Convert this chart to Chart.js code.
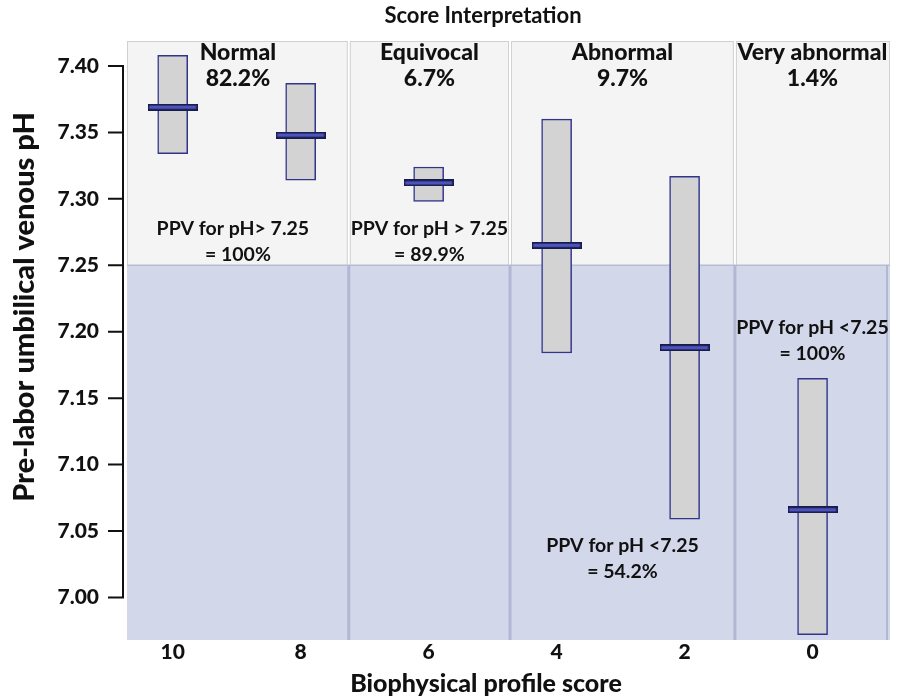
<!DOCTYPE html>
<html><head><meta charset="utf-8">
<script src="https://cdn.jsdelivr.net/npm/chart.js@4.4.1/dist/chart.umd.min.js"></script>
<style>html,body{margin:0;padding:0;background:#fff}</style>
</head><body>
<canvas id="c" width="903" height="697"></canvas>
<script>
// ---- data ----
const scoreLabels = ['10', '8', '6', '4', '2', '0'];
const rangeLow  = [7.334, 7.314, 7.298, 7.184, 7.059, 6.972];
const rangeHigh = [7.408, 7.387, 7.324, 7.360, 7.317, 7.165];
const meanPH    = [7.369, 7.348, 7.312, 7.265, 7.188, 7.066];
const yTickValues = [7.00, 7.05, 7.10, 7.15, 7.20, 7.25, 7.30, 7.35, 7.40];
const cutoffPH = 7.25;
const sectionNames  = ['Normal', 'Equivocal', 'Abnormal', 'Very abnormal'];
const sectionShares = ['82.2%', '6.7%', '9.7%', '1.4%'];
const ppvLine1 = ['PPV for pH> 7.25', 'PPV for pH > 7.25', 'PPV for pH <7.25', 'PPV for pH <7.25'];
const ppvLine2 = ['= 100%', '= 89.9%', '= 54.2%', '= 100%'];
const ppvAnchorPH = [7.2774, 7.2774, 7.0388, 7.2029];
const sectionBounds = [-0.357, 1.376, 2.636, 4.393, 5.605];
const chartTitle = 'Score Interpretation';
const xTitle = 'Biophysical profile score';
const yTitle = 'Pre-labor umbilical venous pH';

// ---- styles ----
const FONT = 'Lato, "DejaVu Sans", sans-serif';
const boxFill = '#d3d3d3', boxBorder = '#30358a';
const topFill = '#f4f4f4', topBorder = '#d0d0d0';
const lowFill = '#d3d7ea', lowSep = '#b2b7d3';

// mean marker image
const marker = document.createElement('canvas');
marker.width = 50; marker.height = 7;
(function(){
  const m = marker.getContext('2d');
  m.fillStyle = '#191b48'; m.fillRect(0, 0, 50, 7);
  m.fillStyle = '#4b53bd'; m.fillRect(1.5, 1.8, 47, 3.4);
})();

const idx = scoreLabels.map((_, i) => i);

const bgPlugin = {
  id: 'bg',
  beforeDraw(chart) {
    const {ctx, chartArea: a, scales: {x, y}} = chart;
    ctx.save();
    const yc = y.getPixelForValue(cutoffPH);
    for (let i = 0; i < sectionNames.length; i++) {
      const x0 = x.getPixelForValue(sectionBounds[i]) + (i === 0 ? 0.5 : 1.5);
      const x1 = x.getPixelForValue(sectionBounds[i + 1]) - (i === sectionNames.length - 1 ? 0.5 : 1.5);
      ctx.fillStyle = topFill;
      ctx.fillRect(x0, a.top, x1 - x0, yc - a.top);
      ctx.strokeStyle = topBorder; ctx.lineWidth = 1;
      ctx.strokeRect(x0, a.top + 0.5, x1 - x0, yc - a.top);
    }
    ctx.fillStyle = lowFill;
    ctx.fillRect(a.left, yc, a.right - a.left, a.bottom - yc);
    ctx.strokeStyle = '#b8bccf'; ctx.lineWidth = 1.5;
    ctx.beginPath(); ctx.moveTo(a.left, yc); ctx.lineTo(a.right, yc); ctx.stroke();
    ctx.strokeStyle = lowSep; ctx.lineWidth = 3;
    for (let i = 1; i < sectionBounds.length - 1; i++) {
      const px = x.getPixelForValue(sectionBounds[i]);
      ctx.beginPath(); ctx.moveTo(px, yc); ctx.lineTo(px, a.bottom); ctx.stroke();
    }
    ctx.lineWidth = 2;
    ctx.beginPath(); ctx.moveTo(a.right - 3, yc); ctx.lineTo(a.right - 3, a.bottom); ctx.stroke();
    // y axis line + ticks
    const ax = a.left - 4;
    ctx.strokeStyle = '#111'; ctx.lineWidth = 2;
    ctx.beginPath();
    ctx.moveTo(ax, y.getPixelForValue(7.40)); ctx.lineTo(ax, y.getPixelForValue(7.00));
    yTickValues.forEach(v => { const py = y.getPixelForValue(v); ctx.moveTo(ax - 15, py); ctx.lineTo(ax + 1, py); });
    ctx.stroke();
    ctx.restore();
  },
  afterDatasetsDraw(chart) {
    const {ctx, chartArea: a, scales: {x, y}} = chart;
    ctx.save();
    ctx.fillStyle = '#111';
    ctx.textAlign = 'center'; ctx.textBaseline = 'middle';
    for (let i = 0; i < sectionNames.length; i++) {
      const cx = (x.getPixelForValue(sectionBounds[i]) + x.getPixelForValue(sectionBounds[i + 1])) / 2;
      ctx.font = '900 23px ' + FONT;
      ctx.fillText(sectionNames[i], cx, a.top + 12);
      ctx.fillText(sectionShares[i], cx, a.top + 38);
      ctx.font = 'bold 19.5px ' + FONT;
      const py = y.getPixelForValue(ppvAnchorPH[i]);
      ctx.fillText(ppvLine1[i], cx - (i === 0 ? 5 : 0), py);
      ctx.fillText(ppvLine2[i], cx, py + 26);
    }
    ctx.font = 'bold 22px ' + FONT;
    ctx.fillText(chartTitle, 483, 16);
    ctx.font = '900 25px ' + FONT;
    ctx.fillText(xTitle, 486, 684);
    ctx.save();
    ctx.translate(25, 307); ctx.rotate(-Math.PI / 2);
    ctx.font = '900 29px ' + FONT;
    ctx.fillText(yTitle, 0, 0);
    ctx.restore();
    ctx.restore();
  }
};

new Chart(document.getElementById('c'), {
  type: 'bar',
  data: {
    datasets: [
      {
        type: 'scatter',
        data: idx.map(i => ({x: i, y: meanPH[i]})),
        pointStyle: marker,
        pointRadius: 10,
        order: 1
      },
      {
        type: 'bar',
        data: idx.map(i => ({x: i, y: [rangeLow[i], rangeHigh[i]]})),
        backgroundColor: boxFill,
        borderColor: boxBorder,
        borderWidth: 1.5,
        borderSkipped: false,
        barThickness: 30,
        grouped: false,
        order: 2
      }
    ]
  },
  options: {
    responsive: false,
    animation: false,
    devicePixelRatio: 1,
    layout: {padding: {left: 0, top: 41, right: 13, bottom: 0}},
    plugins: {legend: {display: false}, tooltip: {enabled: false}, title: {display: false}},
    scales: {
      x: {
        type: 'linear',
        offset: false,
        min: sectionBounds[0], max: sectionBounds[sectionBounds.length - 1],
        afterBuildTicks: s => { s.ticks = idx.map(v => ({value: v})); },
        afterFit: s => { s.height = 57; },
        ticks: {
          callback: v => scoreLabels[v],
          font: {family: FONT, size: 21, weight: '900'},
          color: '#111', padding: 0, maxRotation: 0, autoSkip: false
        },
        grid: {display: false, drawTicks: false},
        border: {display: false}
      },
      y: {
        min: 6.968, max: 7.4188,
        afterBuildTicks: s => { s.ticks = yTickValues.map(v => ({value: v})); },
        afterFit: s => { s.width = 127; },
        ticks: {
          callback: v => v.toFixed(2),
          font: {family: FONT, size: 21, weight: '900'},
          color: '#111', padding: 10
        },
        grid: {color: 'rgba(0,0,0,0)', drawOnChartArea: false, tickLength: 18},
        border: {display: false}
      }
    }
  },
  plugins: [bgPlugin]
});
</script>
</body></html>
